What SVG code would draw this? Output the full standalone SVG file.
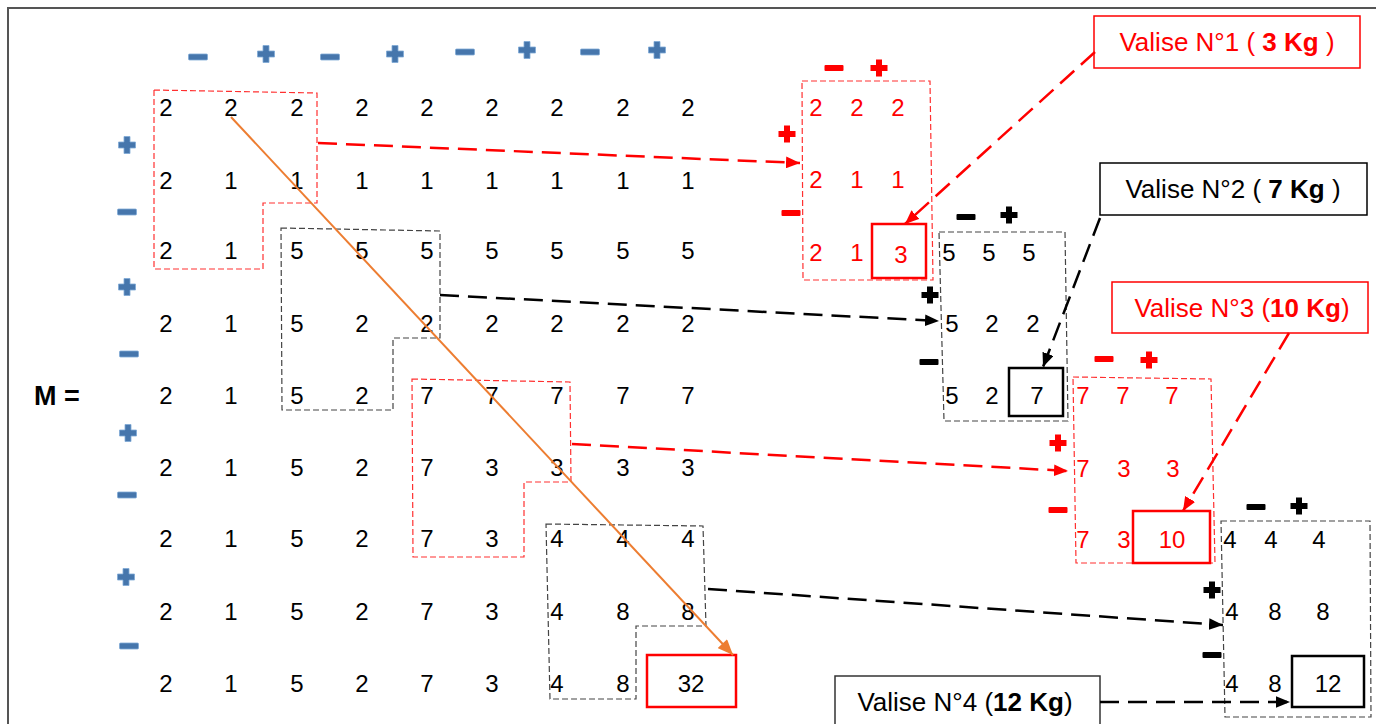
<svg xmlns="http://www.w3.org/2000/svg" xmlns:xlink="http://www.w3.org/1999/xlink" width="1376" height="724" viewBox="0 0 1376 724">
<style>
text{font-family:"Liberation Sans",Arial,sans-serif}
.n{font-size:24px;text-anchor:middle}
.r{fill:#ff0000}
.k{fill:#000}
.lab{font-size:26px;text-anchor:middle}
.b{font-weight:bold}
.reg{fill:none;stroke-width:1.2;stroke-dasharray:6 3}
.regr{stroke:#ff3030}
.regk{stroke:#444}
.solid{fill:none;stroke-width:2.5}
.vbox{fill:#fff;stroke-width:1.5}
.con{fill:none;stroke-width:2.5;stroke-dasharray:19 9}
.blue{fill:#4676ac;stroke:#7fa9d6;stroke-width:0.8}
</style>
<defs>
<path id="plus" d="M-3,-8.5h6v5.5h5.5v6h-5.5v5.5h-6v-5.5h-5.5v-6h5.5z"/>
<rect id="minus" x="-9.5" y="-3" width="19" height="6" rx="1"/>
<marker id="ar" viewBox="0 0 12 10" refX="12" refY="5" markerWidth="14" markerHeight="12" markerUnits="userSpaceOnUse" orient="auto"><path d="M0,0L12,5L0,10z" fill="#ff0000"/></marker>
<marker id="ak" viewBox="0 0 12 10" refX="12" refY="5" markerWidth="14" markerHeight="12" markerUnits="userSpaceOnUse" orient="auto"><path d="M0,0L12,5L0,10z" fill="#000"/></marker>
<marker id="ao" viewBox="0 0 12 10" refX="12" refY="5" markerWidth="16" markerHeight="13" markerUnits="userSpaceOnUse" orient="auto"><path d="M0,0L12,5L0,10z" fill="#ED7D31"/></marker>
</defs>
<rect width="1376" height="724" fill="#fff"/>
<path d="M8,724V8H1376" fill="none" stroke="#555" stroke-width="2"/>

<g id="label-M"><text x="34" y="405" style="font-size:27px;font-weight:bold">M =</text></g>

<g id="signs-blue" class="blue">
<use href="#minus" x="198" y="57"/><use href="#plus" x="266" y="54"/>
<use href="#minus" x="330" y="57"/><use href="#plus" x="395" y="54"/>
<use href="#minus" x="465" y="52"/><use href="#plus" x="527" y="50"/>
<use href="#minus" x="590" y="52"/><use href="#plus" x="657" y="50"/>
<use href="#plus" x="127" y="145"/><use href="#minus" x="127" y="212"/>
<use href="#plus" x="127" y="287"/><use href="#minus" x="129" y="354"/>
<use href="#plus" x="128" y="433"/><use href="#minus" x="127" y="495"/>
<use href="#plus" x="126" y="577"/><use href="#minus" x="129" y="646"/>
</g>

<g id="matrix" class="n k">
<text x="166" y="116">2</text><text x="231" y="116">2</text><text x="297" y="116">2</text><text x="362" y="116">2</text><text x="427" y="116">2</text><text x="492" y="116">2</text><text x="557" y="116">2</text><text x="623" y="116">2</text><text x="688" y="116">2</text>
<text x="166" y="189">2</text><text x="231" y="189">1</text><text x="297" y="189">1</text><text x="362" y="189">1</text><text x="427" y="189">1</text><text x="492" y="189">1</text><text x="557" y="189">1</text><text x="623" y="189">1</text><text x="688" y="189">1</text>
<text x="166" y="259">2</text><text x="231" y="259">1</text><text x="297" y="259">5</text><text x="362" y="259">5</text><text x="427" y="259">5</text><text x="492" y="259">5</text><text x="557" y="259">5</text><text x="623" y="259">5</text><text x="688" y="259">5</text>
<text x="166" y="332">2</text><text x="231" y="332">1</text><text x="297" y="332">5</text><text x="362" y="332">2</text><text x="427" y="332">2</text><text x="492" y="332">2</text><text x="557" y="332">2</text><text x="623" y="332">2</text><text x="688" y="332">2</text>
<text x="166" y="404">2</text><text x="231" y="404">1</text><text x="297" y="404">5</text><text x="362" y="404">2</text><text x="427" y="404">7</text><text x="492" y="404">7</text><text x="557" y="404">7</text><text x="623" y="404">7</text><text x="688" y="404">7</text>
<text x="166" y="476">2</text><text x="231" y="476">1</text><text x="297" y="476">5</text><text x="362" y="476">2</text><text x="427" y="476">7</text><text x="492" y="476">3</text><text x="557" y="476">3</text><text x="623" y="476">3</text><text x="688" y="476">3</text>
<text x="166" y="547">2</text><text x="231" y="547">1</text><text x="297" y="547">5</text><text x="362" y="547">2</text><text x="427" y="547">7</text><text x="492" y="547">3</text><text x="557" y="547">4</text><text x="623" y="547">4</text><text x="688" y="547">4</text>
<text x="166" y="620">2</text><text x="231" y="620">1</text><text x="297" y="620">5</text><text x="362" y="620">2</text><text x="427" y="620">7</text><text x="492" y="620">3</text><text x="557" y="620">4</text><text x="623" y="620">8</text><text x="688" y="620">8</text>
<text x="166" y="692">2</text><text x="231" y="692">1</text><text x="297" y="692">5</text><text x="362" y="692">2</text><text x="427" y="692">7</text><text x="492" y="692">3</text><text x="557" y="692">4</text><text x="623" y="692">8</text><text x="691" y="692">32</text>
</g>

<g id="regions">
<path class="reg regr" d="M154,90L317,93L317,203L263,203L263,269L154,269Z"/>
<path class="reg regk" d="M281,228L440,231L440,338L393,338L393,410L282,410Z"/>
<path class="reg regr" d="M412,379L570,382L571,482L524,482L524,557L413,557Z"/>
<path class="reg regk" d="M546,524L703,526L706,626L636,626L636,699L550,699Z"/>
<rect class="solid" x="647" y="655" width="89" height="52" stroke="#ff0000"/>
</g>

<g id="sub1">
<path class="reg regr" d="M802,81L930,81L933,280L803,280Z"/>
<g class="r"><use href="#minus" x="834" y="68"/><use href="#plus" x="879" y="68"/><use href="#plus" x="787" y="134"/><use href="#minus" x="791" y="213"/></g>
<g class="n r">
<text x="816" y="116">2</text><text x="857" y="116">2</text><text x="898" y="116">2</text>
<text x="816" y="188">2</text><text x="857" y="188">1</text><text x="898" y="188">1</text>
<text x="816" y="261">2</text><text x="857" y="261">1</text><text x="901" y="263">3</text>
</g>
<rect class="solid" x="872" y="224" width="54" height="54" stroke="#ff0000"/>
</g>

<g id="sub2">
<path class="reg regk" d="M939,232L1065,232L1068,421L944,421Z"/>
<g class="k"><use href="#minus" x="966" y="217"/><use href="#plus" x="1009" y="215"/><use href="#plus" x="930" y="295"/><use href="#minus" x="929" y="362"/></g>
<g class="n k">
<text x="949" y="261">5</text><text x="989" y="261">5</text><text x="1029" y="261">5</text>
<text x="952" y="332">5</text><text x="992" y="332">2</text><text x="1033" y="332">2</text>
<text x="952" y="404">5</text><text x="992" y="404">2</text><text x="1037" y="404">7</text>
</g>
<rect class="solid" x="1009" y="368" width="54" height="48" stroke="#000"/>
</g>

<g id="sub3">
<path class="reg regr" d="M1073,377L1211,379L1215,563L1076,563Z"/>
<g class="r"><use href="#minus" x="1104" y="359"/><use href="#plus" x="1149" y="360"/><use href="#plus" x="1058" y="443"/><use href="#minus" x="1058" y="510"/></g>
<g class="n r">
<text x="1083" y="404">7</text><text x="1123" y="404">7</text><text x="1172" y="404">7</text>
<text x="1083" y="477">7</text><text x="1124" y="477">3</text><text x="1173" y="477">3</text>
<text x="1083" y="548">7</text><text x="1124" y="548">3</text><text x="1172" y="548">10</text>
</g>
<rect class="solid" x="1133" y="511" width="77" height="52" stroke="#ff0000"/>
</g>

<g id="sub4">
<path class="reg regk" d="M1221,521L1370,521L1371,717L1225,717Z"/>
<g class="k"><use href="#minus" x="1256" y="507"/><use href="#plus" x="1299" y="506"/><use href="#plus" x="1212" y="590"/><use href="#minus" x="1212" y="655"/></g>
<g class="n k">
<text x="1230" y="548">4</text><text x="1271" y="548">4</text><text x="1319" y="548">4</text>
<text x="1232" y="620">4</text><text x="1275" y="620">8</text><text x="1323" y="620">8</text>
<text x="1232" y="692">4</text><text x="1275" y="692">8</text><text x="1328" y="692">12</text>
</g>
<rect class="solid" x="1292" y="656" width="72" height="51" stroke="#000"/>
</g>

<g id="valise1">
<rect class="vbox" x="1094" y="16" width="266" height="52" stroke="#ff0000"/>
<text class="lab r" x="1227" y="51">Valise N°1 ( <tspan class="b">3 Kg</tspan> )</text>
</g>
<g id="valise2">
<rect class="vbox" x="1100" y="163" width="267" height="52" stroke="#000"/>
<text class="lab k" x="1233" y="198">Valise N°2 ( <tspan class="b">7 Kg</tspan> )</text>
</g>
<g id="valise3">
<rect class="vbox" x="1112" y="282" width="256" height="51" stroke="#ff0000"/>
<text class="lab r" x="1242" y="317">Valise N°3 (<tspan class="b">10 Kg</tspan>)</text>
</g>
<g id="valise4">
<rect class="vbox" x="835" y="676" width="265" height="60" stroke="#333"/>
<text class="lab k" x="965" y="711">Valise N°4 (<tspan class="b">12 Kg</tspan>)</text>
</g>

<g id="connectors">
<line x1="231" y1="117" x2="733" y2="655" stroke="#ED7D31" stroke-width="2" marker-end="url(#ao)"/>
<line class="con" x1="318" y1="143" x2="800" y2="163" stroke="#ff0000" marker-end="url(#ar)"/>
<line class="con" x1="440" y1="295" x2="939" y2="321" stroke="#000" marker-end="url(#ak)"/>
<line class="con" x1="572" y1="444" x2="1068" y2="471" stroke="#ff0000" marker-end="url(#ar)"/>
<line class="con" x1="708" y1="589" x2="1223" y2="625" stroke="#000" marker-end="url(#ak)"/>
<line class="con" x1="1095" y1="52" x2="905" y2="224" stroke="#ff0000" marker-end="url(#ar)"/>
<line class="con" x1="1100" y1="218" x2="1043" y2="367" stroke="#000" marker-end="url(#ak)"/>
<line class="con" x1="1289" y1="333" x2="1183" y2="511" stroke="#ff0000" marker-end="url(#ar)"/>
<line class="con" x1="1100" y1="702" x2="1290" y2="702" stroke="#000" marker-end="url(#ak)"/>
</g>
</svg>
